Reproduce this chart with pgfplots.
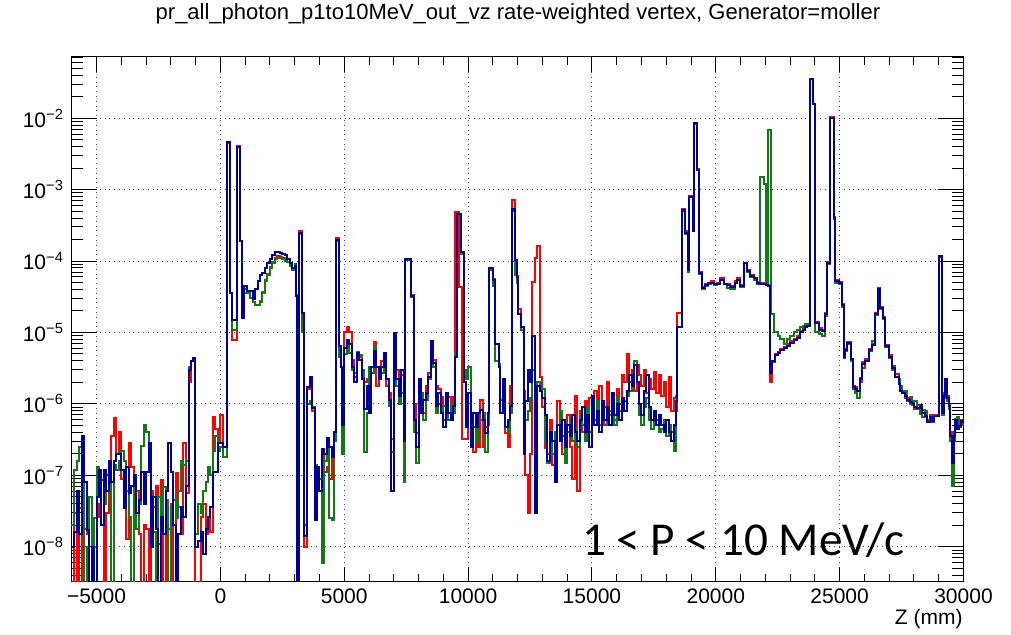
\documentclass[border=0pt]{standalone}
\usepackage{fontspec}
\setmainfont{Liberation Sans}
\newfontfamily\carlito{Carlito}
\usepackage{pgfplots}
\usepackage{pgfplotstable}
\pgfplotsset{compat=1.18}
\definecolor{hred}{RGB}{255,0,0}
\definecolor{hgreen}{RGB}{20,120,20}
\definecolor{hblue}{RGB}{0,0,153}

% bin left edge z (mm), then red, green, blue rates; 1e-9 = empty bin
\pgfplotstableread{
z r g b
-6100 1e-9 2.0e-8 1.0e-8
-5900 3.0e-8 1.2e-7 1.6e-8
-5800 1e-9 1.6e-7 6e-8
-5700 3.5e-8 2.5e-7 1.5e-8
-5600 1e-9 1.0e-7 3.5e-7
-5500 1.8e-8 1e-9 8e-8
-5400 1.5e-8 1.0e-8 1.7e-8
-5300 1e-9 5e-8 1e-9
-5200 1.8e-8 1e-9 1.0e-8
-5100 1.0e-8 2.5e-8 1e-9
-5000 4e-8 1.3e-7 5e-8
-4900 2.6e-8 6e-8 1.2e-7
-4800 8.6e-8 8.6e-8 2e-8
-4700 1e-9 4e-8 1.2e-7
-4600 3e-8 1.0e-7 6e-8
-4500 1.6e-7 1.1e-7 1.6e-7
-4400 3.5e-7 1e-9 8e-8
-4300 6.3e-7 1.4e-7 1.6e-7
-4200 2e-7 1.2e-7 2.0e-7
-4100 4e-7 1.6e-7 2.0e-7
-4000 9e-8 2.2e-7 1.2e-7
-3900 5.6e-8 1.6e-7 3.5e-8
-3800 1.3e-8 6e-8 1.3e-7
-3700 2.8e-7 2.6e-8 5.6e-8
-3600 1.3e-7 1e-9 7e-8
-3500 2e-8 8.6e-8 1.0e-7
-3400 6e-8 1.8e-8 3e-8
-3300 1.5e-8 4e-8 4.5e-8
-3200 1e-9 2.6e-7 1.1e-7
-3100 2e-8 5.0e-7 4e-8
-3000 1.8e-8 4e-7 1.1e-7
-2900 1e-9 1.6e-7 2.8e-7
-2800 6e-8 3.6e-8 1.0e-8
-2700 3.6e-8 1.6e-8 5e-8
-2600 7e-8 1e-9 1.8e-8
-2500 1.1e-8 5e-8 1e-9
-2400 8.6e-8 2.6e-8 2.6e-8
-2300 1e-9 6.9e-8 1.5e-8
-2200 4.5e-8 4.5e-8 6e-8
-2100 1.8e-8 1e-9 2.8e-7
-2000 4e-8 3.6e-8 1.1e-7
-1900 1e-9 4.5e-8 2e-8
-1800 1.07e-7 2.5e-8 1e-9
-1700 3.6e-8 6e-8 1.5e-8
-1600 1.5e-8 1.6e-7 3.6e-8
-1500 2.8e-7 1.4e-7 2.6e-8
-1400 5.6e-8 1.6e-7 7e-8
-1260 2e-6 3.3e-6 3.0e-6
-1180 4.0e-6 4.0e-6 4.0e-6
-1100 4.2e-6 4.0e-6 4.4e-6
-1020 1e-9 1.5e-8 1.0e-8
-900 1e-9 4e-8 1.2e-8
-800 2.6e-8 3e-8 1.6e-8
-700 4e-8 6e-8 8e-9
-600 1.5e-8 8e-8 1.8e-8
-500 2.6e-8 1.3e-7 2.6e-8
-400 1.6e-8 1.0e-7 3.6e-8
-300 6.6e-7 2.2e-7 1.1e-7
-200 4.4e-7 3.5e-7 1.1e-7
-100 3e-7 2.2e-7 2.8e-7
0 7e-7 2.5e-7 2.8e-7
100 2.5e-7 1.8e-7 2.5e-7
257 4.6e-3 4.5e-3 4.6e-3
405 3.6e-5 3.6e-5 3.6e-5
486 7.9e-6 1.1e-5 1.5e-5
661 4.1e-3 4.0e-3 4.0e-3
796 1.9e-4 1.9e-4 1.9e-4
891 1.6e-5 1.6e-5 1.6e-5
972 3.6e-5 4.0e-5 4.5e-5
1065 3.6e-5 3.6e-5 3.8e-5
1200 3.0e-5 3.0e-5 3.8e-5
1300 2.7e-5 2.7e-5 2.9e-5
1400 2.45e-5 2.45e-5 4.0e-5
1500 2.45e-5 2.45e-5 5.2e-5
1600 2.8e-5 2.7e-5 6.4e-5
1700 3.7e-5 3.6e-5 6.9e-5
1800 5.4e-5 5.2e-5 8.0e-5
1900 6.6e-5 6.4e-5 9.4e-5
2000 8.3e-5 8.0e-5 1.07e-4
2100 9.8e-5 9.4e-5 1.23e-4
2200 1.12e-4 1.07e-4 1.32e-4
2300 1.16e-4 1.10e-4 1.36e-4
2400 1.14e-4 1.10e-4 1.29e-4
2500 1.09e-4 1.07e-4 1.25e-4
2600 1.02e-4 1.0e-4 1.23e-4
2700 9.7e-5 9.7e-5 1.07e-4
2800 8.6e-5 8.4e-5 9.4e-5
2900 7.6e-5 7.6e-5 8.0e-5
3000 8.4e-5 9.0e-5 8.4e-5
3060 3.2e-5 3.4e-5 3.2e-5
3110 1.5e-8 3e-8 1e-9
3180 2.6e-4 2.4e-4 2.5e-4
3313 1.6e-5 1.0e-5 1.9e-5
3394 1e-8 2e-8 1.4e-8
3500 1.6e-6 1.0e-6 1.7e-6
3600 2.2e-6 1.1e-6 2.4e-6
3700 8e-7 9e-7 8.8e-7
3800 1.3e-7 1.4e-7 2.4e-8
3900 8e-8 1.0e-7 1.3e-7
4000 6e-8 9e-8 6e-8
4100 2.0e-7 6e-9 2.3e-7
4200 1.1e-7 1.6e-7 2.0e-7
4300 1.3e-7 2.5e-7 3.3e-7
4400 9e-8 2.5e-8 2.5e-7
4500 2.2e-7 2.4e-8 1.8e-7
4600 4e-7 3e-7 4e-7
4665 2.1e-4 1.9e-4 2.0e-4
4795 6.4e-6 4.6e-6 6.4e-6
4870 3.3e-6 3.3e-6 3.3e-6
4920 1.2e-6 2e-7 5e-7
5000 1.0e-5 5e-6 6e-6
5100 1.2e-5 6.4e-6 7.9e-6
5200 1.03e-5 5.1e-6 6.8e-6
5300 4.1e-6 3.0e-6 3.3e-6
5400 2.4e-6 2.7e-6 2.0e-6
5500 5.1e-6 5.3e-6 5.1e-6
5600 4.6e-6 4.8e-6 4.1e-6
5700 2.7e-6 3.0e-6 2.2e-6
5800 2.0e-6 2.1e-7 8.5e-7
5900 2.2e-6 7.4e-7 1.76e-6
6000 2.2e-6 3.3e-6 7.4e-7
6100 2.7e-6 2.7e-6 3.3e-6
6200 7.4e-6 6.4e-6 5.5e-6
6300 1.76e-6 3.3e-6 3.3e-6
6400 2.7e-6 2.2e-6 2.2e-6
6500 4.0e-6 2.7e-6 3.3e-6
6600 4.4e-6 4.6e-6 5.1e-6
6700 1.76e-6 2.2e-6 2.2e-6
6800 1.42e-6 9.2e-7 1.14e-6
6900 2.1e-7 3.2e-7 6e-8
7000 9.0e-6 7.9e-6 9.8e-6
7100 3.0e-6 1.76e-6 2.2e-6
7200 2.2e-6 1.0e-6 1.3e-6
7300 2.5e-6 1.42e-6 3.0e-6
7400 2.1e-7 8e-8 3e-7
7473 1.08e-4 1.04e-4 1.06e-4
7690 3.3e-5 3.1e-5 3.2e-5
7800 1.0e-6 4e-7 6e-7
7900 3.9e-7 1.5e-7 2.5e-7
8000 1.42e-6 1.14e-6 2.2e-6
8100 7.4e-7 1.42e-6 7.4e-7
8200 7.4e-7 6e-7 1.14e-6
8300 1.76e-6 1.14e-6 1.42e-6
8400 2.7e-6 2.2e-6 2.4e-6
8500 7.4e-6 6.4e-6 7.6e-6
8600 4.1e-6 3.3e-6 3.7e-6
8700 1.76e-6 7.4e-7 9.2e-7
8800 1.6e-6 9.9e-7 1.42e-6
8900 1.25e-6 9.2e-7 7.4e-7
9000 9.2e-7 6e-7 4.8e-7
9100 1.14e-6 9.2e-7 1.42e-6
9200 1.25e-6 6e-7 7.4e-7
9300 9.2e-7 1.0e-6 6e-7
9400 1.25e-6 7.4e-7 9.2e-7
9480 4.8e-4 5e-6 4.5e-6
9550 4.8e-4 4.5e-4 4.6e-4
9640 4.4e-5 4.5e-4 4.6e-4
9710 4.4e-5 1.25e-4 1.36e-4
9750 3.2e-7 1.25e-4 1.36e-4
9820 3.2e-7 3e-6 2.0e-6
9900 3.2e-7 2.2e-6 4.8e-7
10000 1.42e-6 3.3e-6 1.42e-6
10100 4.8e-7 2.8e-7 2.5e-7
10200 2.1e-7 4.8e-7 7.4e-7
10300 7.4e-7 2.8e-7 4.8e-7
10400 2.5e-7 6e-7 7.4e-7
10500 1.14e-6 6e-7 8.2e-7
10600 2.5e-7 7.4e-7 6e-7
10700 4.8e-7 2.1e-7 3.9e-7
10800 6e-7 5e-7 7.4e-7
10852 7.5e-5 7.6e-5 7.9e-5
10990 5.6e-5 4.5e-5 5.4e-5
11100 7e-6 4e-6 7e-6
11230 3.3e-6 3.6e-6 3.3e-6
11300 7.4e-7 1.14e-6 7.4e-7
11400 7.4e-7 1.76e-6 2.2e-6
11500 3.9e-7 4.8e-7 4.8e-7
11600 2.5e-7 3.9e-7 6e-7
11700 1.76e-6 7.4e-7 9.2e-7
11768 7.2e-4 5.0e-4 5.3e-4
11902 1.05e-4 6.4e-5 1.04e-4
11960 6.1e-5 5.0e-5 6.0e-5
12030 2.1e-5 1.8e-5 1.8e-5
12130 1.2e-5 1.1e-5 1.2e-5
12240 1.5e-6 1.0e-6 2e-7
12300 1e-7 6e-7 1.1e-6
12400 3e-8 8e-7 3e-6
12500 2e-7 1.2e-6 2e-6
12580 5.1e-5 3e-6 8.8e-6
12700 1.1e-4 1.2e-6 3e-8
12800 1.6e-4 2e-6 1.8e-6
12910 2.4e-6 1.5e-6 1.5e-6
13000 9e-7 1.6e-6 1.2e-6
13100 2.4e-7 3e-7 7e-7
13200 2e-7 1.5e-7 1.6e-7
13300 6e-7 3e-7 4e-7
13400 1.4e-7 2e-7 3e-7
13500 3e-7 4e-7 8e-8
13600 1.1e-6 5e-7 5e-7
13700 5e-7 8e-7 3e-7
13800 2e-7 3.5e-7 6e-7
13900 4e-7 1.5e-7 2.5e-7
14000 7e-7 4e-7 5e-7
14100 2.5e-7 6e-7 3.5e-7
14200 9e-8 3e-7 7e-7
14300 1.3e-6 4.5e-7 4e-7
14400 6e-8 2.5e-7 3e-7
14500 8e-7 7e-7 6e-7
14600 4e-7 5e-7 9e-7
14700 1.1e-6 3e-7 4e-7
14800 5e-7 9e-7 7e-7
14900 1.2e-6 4e-7 2.5e-7
15000 6e-7 8e-7 1.3e-6
15100 1.5e-6 6e-7 5e-7
15200 7e-7 1.1e-6 8e-7
15300 1.8e-6 5e-7 4e-7
15400 9e-7 7e-7 1.1e-6
15500 5e-7 9e-7 6e-7
15600 2e-6 5e-7 9e-7
15700 8e-7 7e-7 5e-7
15800 1.2e-6 9e-7 1.4e-6
15900 6e-7 5e-7 7e-7
16000 1.6e-6 1.2e-6 1e-6
16100 1e-6 8e-7 6e-7
16200 2.5e-6 9e-7 1.2e-6
16300 2e-6 1.1e-6 8e-7
16400 5e-6 1.3e-6 1.5e-6
16500 2e-6 1.5e-6 2.5e-6
16600 3e-6 2.5e-6 1.8e-6
16700 1.5e-6 4e-6 3.5e-6
16800 3.5e-6 2e-6 2e-6
16900 2.5e-6 7e-7 1e-6
17000 1.8e-6 5e-7 7e-7
17100 3e-6 9e-7 1.5e-6
17200 1.4e-6 1.2e-6 2.5e-6
17300 2.2e-6 6e-7 9e-7
17400 1.6e-6 4.5e-7 6e-7
17500 2.8e-6 7e-7 8e-7
17600 1.4e-6 6e-7 5e-7
17700 2.5e-6 4e-7 7e-7
17800 1.3e-6 4.5e-7 5e-7
17900 2e-6 6e-7 4e-7
18000 9e-7 3.5e-7 6e-7
18100 2.4e-6 5e-7 4e-7
18200 8e-7 4e-7 3e-7
18300 1.2e-6 2.2e-7 5e-7
18400 1.3e-6 8e-7 1.1e-6
18431 1.9e-5 1.2e-5 1.2e-5
18634 5.3e-4 5.1e-4 5.2e-4
18769 2.6e-4 2.4e-4 2.5e-4
18863 7.8e-5 7.0e-5 7.6e-5
18930 8.2e-4 7.8e-4 8.0e-4
19065 2.7e-4 2.6e-4 2.6e-4
19132 8.6e-3 8.4e-3 8.5e-3
19240 1.95e-3 1.9e-3 1.9e-3
19334 7.0e-5 6.5e-5 6.8e-5
19442 4.4e-5 4.0e-5 4.2e-5
19576 4.7e-5 4.5e-5 4.6e-5
19700 5.0e-5 4.8e-5 4.9e-5
19800 5.2e-5 5.0e-5 5.0e-5
19913 4.7e-5 4.6e-5 4.7e-5
20050 4.9e-5 4.7e-5 4.8e-5
20180 5.8e-5 5.4e-5 5.5e-5
20316 4.8e-5 4.7e-5 4.7e-5
20450 4.7e-5 4.2e-5 4.6e-5
20585 4.5e-5 4.1e-5 4.4e-5
20787 5.2e-5 4.9e-5 5.0e-5
20855 5.7e-5 5.4e-5 5.5e-5
20990 4.6e-5 4.3e-5 4.5e-5
21124 9.5e-5 9.3e-5 9.4e-5
21259 7.4e-5 7.0e-5 7.2e-5
21393 6.3e-5 5.9e-5 6.1e-5
21530 5.8e-5 5.5e-5 5.7e-5
21663 5.1e-5 4.8e-5 5.0e-5
21797 5.0e-5 1.5e-3 4.8e-5
21932 4.8e-5 1.2e-3 4.7e-5
22040 4.7e-5 4.8e-5 4.6e-5
22110 4.6e-5 6.9e-3 4.5e-5
22200 2.0e-6 6.9e-3 2.7e-6
22230 2.0e-6 1.8e-5 2.7e-6
22268 3.8e-6 1.8e-5 4.0e-6
22330 3.8e-6 1.0e-5 4.0e-6
22403 5.0e-6 1.0e-5 4.9e-6
22500 5.4e-6 9e-6 5.2e-6
22605 5.9e-6 8e-6 5.7e-6
22740 6.2e-6 7e-6 6.0e-6
22874 6.8e-6 8e-6 6.5e-6
23000 7.5e-6 9e-6 7.2e-6
23143 8.2e-6 1.0e-5 7.8e-6
23280 9.0e-6 1.1e-5 8.5e-6
23412 1.05e-5 1.2e-5 1.0e-5
23520 1.15e-5 1.25e-5 1.1e-5
23614 1.25e-5 1.3e-5 1.2e-5
23700 1.3e-5 1.3e-5 1.25e-5
23790 3.55e-2 3.5e-2 3.5e-2
23924 1.6e-2 1.57e-2 1.57e-2
24018 1.4e-5 1.0e-5 1.35e-5
24153 1.15e-5 9.5e-6 1.1e-5
24288 1.1e-5 9e-6 1.05e-5
24424 1.9e-5 1.7e-5 1.8e-5
24491 9.6e-5 9.2e-5 9.4e-5
24599 1.03e-2 1.0e-2 1.0e-2
24760 4.1e-4 3.9e-4 4.0e-4
24828 5.4e-5 5.0e-5 5.2e-5
24990 5.1e-5 4.7e-5 4.9e-5
25097 2.5e-5 2.3e-5 2.4e-5
25164 4.8e-6 4.4e-6 4.6e-6
25232 5.9e-6 5.5e-6 5.7e-6
25299 7.3e-6 6.9e-6 7.1e-6
25460 4.3e-6 4.0e-6 4.2e-6
25541 1.8e-6 1.6e-6 1.7e-6
25635 1.7e-6 1.4e-6 1.6e-6
25720 1.5e-6 1.2e-6 1.5e-6
25810 2.0e-6 2.3e-6 2.2e-6
25904 3.2e-6 3.8e-6 3.6e-6
26039 4.2e-6 4.0e-6 4.0e-6
26174 5.9e-6 5.5e-6 5.7e-6
26308 7.0e-6 7.5e-6 6.7e-6
26443 1.85e-5 1.75e-5 1.8e-5
26537 4.2e-5 4.0e-5 4.1e-5
26645 2.3e-5 2.1e-5 2.2e-5
26753 1.65e-5 1.55e-5 1.6e-5
26847 6.7e-6 6.3e-6 6.5e-6
26981 4.8e-6 4.4e-6 4.6e-6
27116 3.4e-6 3.0e-6 3.2e-6
27251 2.6e-6 2.4e-6 2.4e-6
27385 1.9e-6 2.2e-6 1.9e-6
27450 1.6e-6 1.8e-6 1.5e-6
27520 1.5e-6 1.4e-6 1.4e-6
27620 1.2e-6 1.5e-6 1.3e-6
27722 1.2e-6 1.1e-6 1.15e-6
27820 1.0e-6 1.25e-6 1.05e-6
27924 1.1e-6 9.5e-7 1.0e-6
28020 8.5e-7 1.1e-6 9e-7
28124 9.5e-7 8.5e-7 8.8e-7
28230 8e-7 7.2e-7 9.5e-7
28327 8.2e-7 6.5e-7 7.5e-7
28430 6.5e-7 8e-7 6.8e-7
28529 6e-7 5.5e-7 5.5e-7
28630 7e-7 6e-7 6.5e-7
28720 5.5e-7 6.5e-7 5.8e-7
28798 7e-7 6.8e-7 6.7e-7
29000 1.18e-4 1.15e-4 1.16e-4
29148 8e-7 7e-7 7.5e-7
29210 1.4e-6 1.2e-6 1.3e-6
29270 2.0e-6 1.8e-6 2.2e-6
29340 1.3e-6 1.1e-6 1.2e-6
29404 9.8e-7 8.5e-7 9.3e-7
29470 4e-7 3e-7 3.5e-7
29539 1.6e-7 7e-8 1.5e-7
29610 4e-7 3e-7 3.5e-7
29673 6.2e-7 5.5e-7 6e-7
29740 5e-7 6.5e-7 4.5e-7
29808 4.8e-7 5e-7 4.9e-7
29880 6e-7 5.5e-7 5.8e-7
29943 5.2e-7 5e-7 5.5e-7
30000 5.2e-7 5e-7 5.5e-7
}\vzdata

\begin{document}
\begin{tikzpicture}
\path[use as bounding box] (0,0) rectangle (505.5pt,317.5pt);
\begin{axis}[
  at={(35.5pt,26.65pt)}, anchor=south west,
  scale only axis, width=446.25pt, height=262.35pt,
  ymode=log,
  xmin=-6030, xmax=30000,
  ymin=3.24e-9, ymax=0.0719,
  scaled x ticks=false,
  xtick={-5000,0,5000,10000,15000,20000,25000,30000},
  xticklabels={−5000,0,5000,10000,15000,20000,25000,30000},
  minor x tick num=4,
  ytick={1e-8,1e-7,1e-6,1e-5,1e-4,1e-3,1e-2},
  yticklabels={10\textsuperscript{−8},10\textsuperscript{−7},10\textsuperscript{−6},10\textsuperscript{−5},10\textsuperscript{−4},10\textsuperscript{−3},10\textsuperscript{−2}},
  minor ytick={4e-9,5e-9,6e-9,7e-9,8e-9,9e-9,
    2e-8,3e-8,4e-8,5e-8,6e-8,7e-8,8e-8,9e-8,
    2e-7,3e-7,4e-7,5e-7,6e-7,7e-7,8e-7,9e-7,
    2e-6,3e-6,4e-6,5e-6,6e-6,7e-6,8e-6,9e-6,
    2e-5,3e-5,4e-5,5e-5,6e-5,7e-5,8e-5,9e-5,
    2e-4,3e-4,4e-4,5e-4,6e-4,7e-4,8e-4,9e-4,
    2e-3,3e-3,4e-3,5e-3,6e-3,7e-3,8e-3,9e-3,
    2e-2,3e-2,4e-2,5e-2,6e-2,7e-2},
  tick align=inside, xtick pos=both, ytick pos=both,
  xtick style={/pgfplots/major tick length=7.5pt, /pgfplots/minor tick length=4pt},
  ytick style={/pgfplots/major tick length=13pt, /pgfplots/minor tick length=6pt},
  tick style={black, line width=0.5pt},
  axis line style={line width=0.5pt},
  grid=major,
  major grid style={black!75, dotted, line width=0.5pt},
  ticklabel style={font=\fontsize{10.5}{12}\selectfont},
  clip=true,
]
\addplot[hred, line width=1pt, const plot mark left] table[x=z, y=r]{\vzdata};
\addplot[hgreen, line width=1pt, const plot mark left] table[x=z, y=g]{\vzdata};
\addplot[hblue, line width=1pt, const plot mark left] table[x=z, y=b]{\vzdata};
\end{axis}
\node[anchor=base, font=\fontsize{11}{13}\selectfont] at (259pt,307.5pt)
  {pr\_all\_photon\_p1to10MeV\_out\_vz rate-weighted vertex, Generator=moller};
\node[anchor=base east, font=\fontsize{10.5}{12}\selectfont, inner sep=0pt] at (481.5pt,5pt) {Z (mm)};
\node[anchor=base west, font=\carlito\fontsize{23.6}{28}\selectfont, inner sep=0pt] at (290.85pt,39.5pt) {1 < P < 10 MeV/c};
\end{tikzpicture}
\end{document}
